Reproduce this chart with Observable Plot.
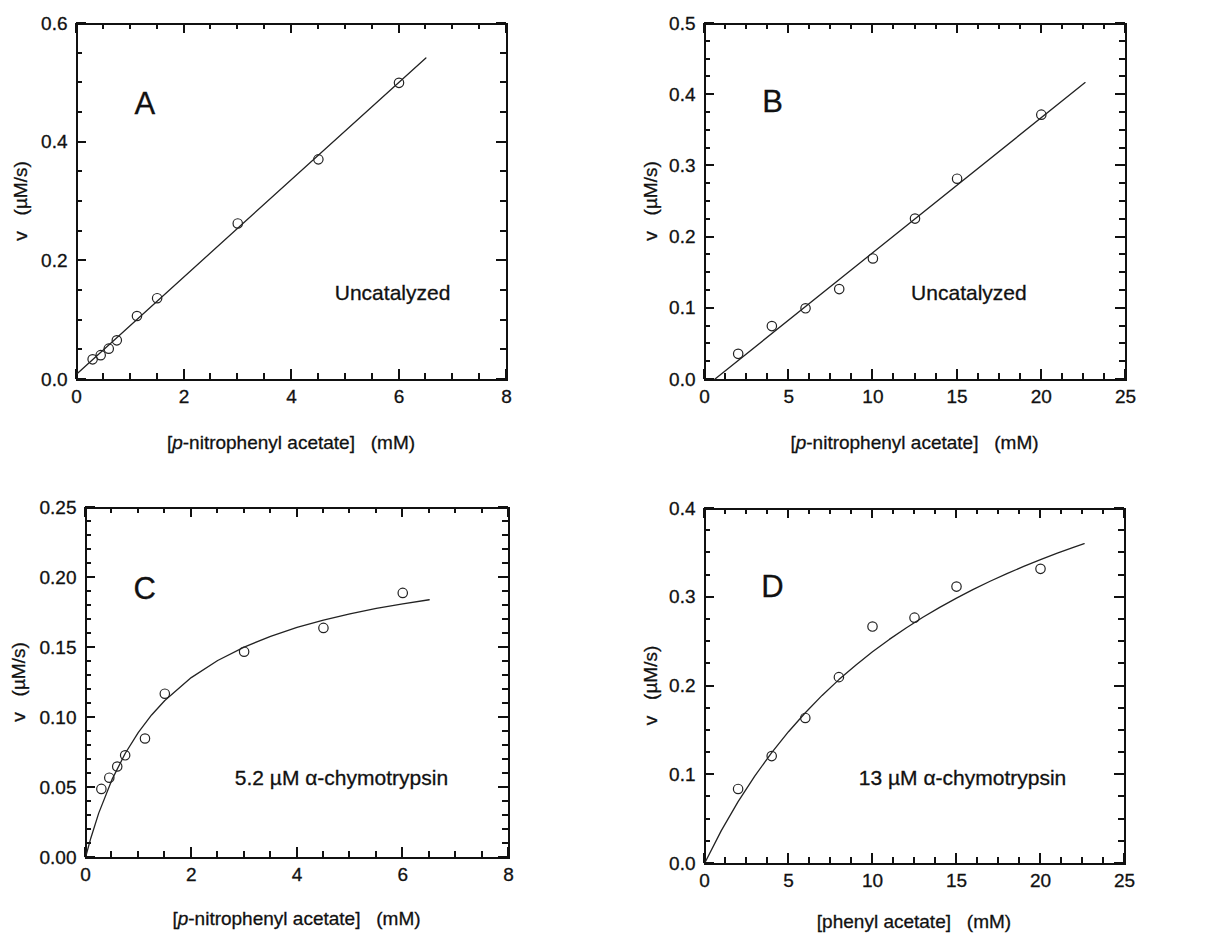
<!DOCTYPE html>
<html><head><meta charset="utf-8">
<script src="https://cdn.jsdelivr.net/npm/d3@7"></script>
<script src="https://cdn.jsdelivr.net/npm/@observablehq/plot@0.6"></script>
<style>
body{margin:0;background:#fff;}
#wrap{position:relative;width:1229px;height:934px;overflow:hidden;background:#fff;}
#wrap svg{position:absolute;}
#wrap svg text{stroke:#111;stroke-width:0.3px;}
</style></head><body><div id="wrap"></div>
<script>
// ---------- Panel A: uncatalyzed, p-nitrophenyl acetate ----------
const aSubstrate = [0.3, 0.45, 0.6, 0.75, 1.125, 1.5, 3, 4.5, 6];
const aRate      = [0.034, 0.041, 0.052, 0.066, 0.107, 0.137, 0.263, 0.371, 0.500];
const aFitX = [0, 6.5];
const aFitY = [0.009, 0.542];
const aXTicks = [0, 2, 4, 6, 8];
const aYTicks = [0.0, 0.2, 0.4, 0.6];

// ---------- Panel B: uncatalyzed, p-nitrophenyl acetate ----------
const bSubstrate = [2, 4, 6, 8, 10, 12.5, 15, 20];
const bRate      = [0.036, 0.075, 0.100, 0.127, 0.170, 0.226, 0.282, 0.372];
const bFitX = [0.59, 22.6];
const bFitY = [0.0, 0.417];
const bXTicks = [0, 5, 10, 15, 20, 25];
const bYTicks = [0.0, 0.1, 0.2, 0.3, 0.4, 0.5];

// ---------- Panel C: 5.2 µM alpha-chymotrypsin, p-nitrophenyl acetate ----------
const cSubstrate = [0.3, 0.45, 0.6, 0.75, 1.125, 1.5, 3, 4.5, 6];
const cRate      = [0.049, 0.057, 0.065, 0.073, 0.085, 0.117, 0.147, 0.164, 0.189];
const cFitX = [0, 0.1, 0.25, 0.5, 0.75, 1, 1.25, 1.5, 2, 2.5, 3, 3.5, 4, 4.5, 5, 5.5, 6, 6.5];
const cFitY = [0, 0.0138, 0.0317, 0.0556, 0.0743, 0.0894, 0.1018, 0.1121, 0.1285, 0.1407, 0.1503, 0.158, 0.1643, 0.1696, 0.174, 0.1779, 0.1812, 0.1841];
const cXTicks = [0, 2, 4, 6, 8];
const cYTicks = [0.00, 0.05, 0.10, 0.15, 0.20, 0.25];

// ---------- Panel D: 13 µM alpha-chymotrypsin, phenyl acetate ----------
const dSubstrate = [2, 4, 6, 8, 10, 12.5, 15, 20];
const dRate      = [0.084, 0.121, 0.164, 0.210, 0.267, 0.277, 0.312, 0.332];
const dFitX = [0, 1, 2, 3, 4, 5, 6, 7, 8, 9, 10, 11, 12, 13, 14, 15, 16, 17, 18, 19, 20, 21, 22, 22.6];
const dFitY = [0, 0.037, 0.0697, 0.0988, 0.1249, 0.1485, 0.1699, 0.1894, 0.2072, 0.2235, 0.2386, 0.2525, 0.2654, 0.2774, 0.2886, 0.299, 0.3088, 0.318, 0.3266, 0.3347, 0.3424, 0.3496, 0.3565, 0.3604];
const dXTicks = [0, 5, 10, 15, 20, 25];
const dYTicks = [0.0, 0.1, 0.2, 0.3, 0.4];

const FONT = '"Liberation Sans", Arial, Helvetica, sans-serif';
const INK = "#111111";
const LINE = "#222222";

function minors(majors, step) {
  const lo = majors[0], hi = majors[majors.length - 1];
  const out = [];
  const n = Math.round((hi - lo) / step);
  for (let i = 0; i <= n; i++) {
    const v = lo + i * step;
    if (!majors.some(m => Math.abs(m - v) < step / 10)) out.push(v);
  }
  return out;
}

function panel(cfg) {
  const {left, top, width, height, mL, mR, mT, mB} = cfg;
  const iw = width - mL - mR, ih = height - mT - mB;
  const pts = cfg.xs.map((x, i) => ({x, y: cfg.ys[i]}));
  const fit = cfg.fx.map((x, i) => ({x, y: cfg.fy[i]}));
  const x0 = cfg.xTicks[0], x1 = cfg.xTicks[cfg.xTicks.length - 1];
  const y0 = cfg.yTicks[0], y1 = cfg.yTicks[cfg.yTicks.length - 1];
  const svg = Plot.plot({
    width, height,
    marginLeft: mL, marginRight: mR, marginTop: mT, marginBottom: mB,
    style: {fontFamily: FONT, color: INK, background: "transparent", overflow: "visible"},
    x: {domain: [x0, x1]},
    y: {domain: [y0, y1]},
    marks: [
      Plot.frame({stroke: INK, strokeWidth: 2, shapeRendering: "crispEdges"}),
      Plot.axisX({ticks: cfg.xTicks, tickSize: 0, tickPadding: 10, fontSize: 19, label: null, tickFormat: cfg.xFmt, fill: INK}),
      Plot.axisY({ticks: cfg.yTicks, tickSize: 0, tickPadding: 9, fontSize: 19, label: null, tickFormat: cfg.yFmt, fill: INK}),
      Plot.line(fit, {x: "x", y: "y", stroke: LINE, strokeWidth: 1.3}),
      Plot.dot(pts, {x: "x", y: "y", r: 4.7, stroke: LINE, strokeWidth: 1.2, fill: "none"}),
      Plot.text([cfg.letter], {x: cfg.letterAt[0], y: cfg.letterAt[1], text: d => d, fontSize: 31, fill: INK}),
      Plot.text([cfg.note], {x: cfg.noteAt[0], y: cfg.noteAt[1], text: d => d, fontSize: 21, fill: INK})
    ]
  });
  svg.style.left = left + "px";
  svg.style.top = top + "px";
  const s = d3.select(svg);
  const sx = svg.scale("x"), sy = svg.scale("y");
  const X = v => Math.round(sx.apply(v)), Y = v => Math.round(sy.apply(v));
  const bx = X(x0), ex = X(x1), by = Y(y0), ey = Y(y1);
  // inward ticks on all four sides, positioned through Plot's scales
  const g = s.append("g").attr("stroke", INK).attr("stroke-width", 2)
    .attr("fill", "none").attr("shape-rendering", "crispEdges");
  const drawTicks = (xv, yv, len) => {
    xv.forEach(v => {
      const px = X(v);
      g.append("line").attr("x1", px).attr("x2", px).attr("y1", by).attr("y2", by - len);
      g.append("line").attr("x1", px).attr("x2", px).attr("y1", ey).attr("y2", ey + len);
    });
    yv.forEach(v => {
      const py = Y(v);
      g.append("line").attr("y1", py).attr("y2", py).attr("x1", bx).attr("x2", bx + len);
      g.append("line").attr("y1", py).attr("y2", py).attr("x1", ex).attr("x2", ex - len);
    });
  };
  drawTicks(minors(cfg.xTicks, cfg.xMinorStep), minors(cfg.yTicks, cfg.yMinorStep), 6);
  drawTicks(cfg.xTicks, cfg.yTicks, 10);
  // x-axis title (with italic part)
  const xt = s.append("text")
    .attr("x", mL + iw / 2).attr("y", cfg.xTitleY - top)
    .attr("dy", "0.36em")
    .attr("text-anchor", "middle")
    .attr("font-family", FONT).attr("font-size", 19).attr("fill", INK)
    .style("white-space", "pre").attr("xml:space", "preserve");
  cfg.xTitle.forEach(([t, it]) => {
    const ts = xt.append("tspan").text(t);
    if (it) ts.attr("font-style", "italic");
  });
  // y-axis title
  s.append("text")
    .attr("transform", `translate(${cfg.yTitleX - left},${mT + ih / 2}) rotate(-90)`)
    .attr("dy", "0.36em")
    .attr("text-anchor", "middle")
    .attr("font-family", FONT).attr("font-size", 19).attr("fill", INK)
    .style("white-space", "pre").attr("xml:space", "preserve")
    .text("v   (\u00b5M/s)");
  document.getElementById("wrap").appendChild(svg);
}

const pnpTitle = [["["], ["p", true], ["-nitrophenyl acetate]   (mM)"]];

panel({left: 0, top: 0, width: 610, height: 465, mL: 76, mR: 104, mT: 23, mB: 86,
  xs: aSubstrate, ys: aRate, fx: aFitX, fy: aFitY,
  xTicks: aXTicks, yTicks: aYTicks, xMinorStep: 0.5, yMinorStep: 0.05,
  xFmt: d3.format("d"), yFmt: d3.format(".1f"),
  letter: "A", letterAt: [1.27, 0.465], note: "Uncatalyzed", noteAt: [5.88, 0.145],
  xTitle: pnpTitle, xTitleY: 442, yTitleX: 20});

panel({left: 615, top: 0, width: 614, height: 465, mL: 89, mR: 104, mT: 23, mB: 86,
  xs: bSubstrate, ys: bRate, fx: bFitX, fy: bFitY,
  xTicks: bXTicks, yTicks: bYTicks, xMinorStep: 1.25, yMinorStep: 0.025,
  xFmt: d3.format("d"), yFmt: d3.format(".1f"),
  letter: "B", letterAt: [4.04, 0.389], note: "Uncatalyzed", noteAt: [15.7, 0.121],
  xTitle: pnpTitle, xTitleY: 442, yTitleX: 650});

panel({left: 0, top: 465, width: 610, height: 469, mL: 85, mR: 102, mT: 42, mB: 77,
  xs: cSubstrate, ys: cRate, fx: cFitX, fy: cFitY,
  xTicks: cXTicks, yTicks: cYTicks, xMinorStep: 0.5, yMinorStep: 0.01,
  xFmt: d3.format("d"), yFmt: d3.format(".2f"),
  letter: "C", letterAt: [1.12, 0.192], note: "5.2 \u00b5M \u03b1-chymotrypsin", noteAt: [4.84, 0.0564],
  xTitle: pnpTitle, xTitleY: 918, yTitleX: 18});

panel({left: 615, top: 465, width: 614, height: 469, mL: 89, mR: 105, mT: 43, mB: 71,
  xs: dSubstrate, ys: dRate, fx: dFitX, fy: dFitY,
  xTicks: dXTicks, yTicks: dYTicks, xMinorStep: 1.25, yMinorStep: 0.025,
  xFmt: d3.format("d"), yFmt: d3.format(".1f"),
  letter: "D", letterAt: [4.05, 0.311], note: "13 \u00b5M \u03b1-chymotrypsin", noteAt: [15.36, 0.0958],
  xTitle: [["[phenyl acetate]   (mM)"]], xTitleY: 921, yTitleX: 650});
</script>
</body></html>
